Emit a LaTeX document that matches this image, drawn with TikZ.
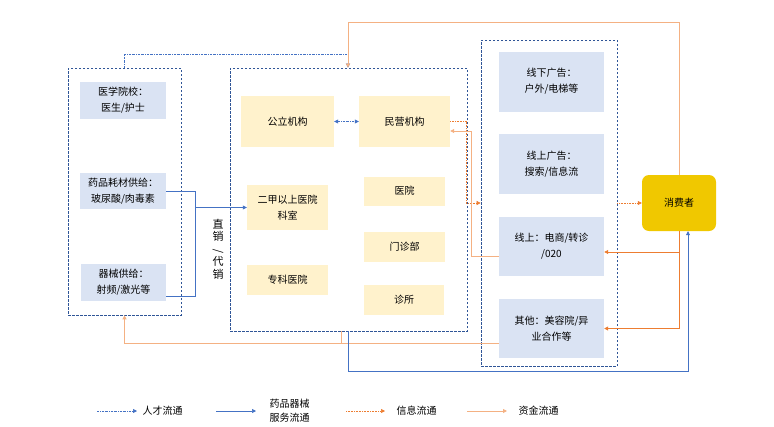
\documentclass[tikz,border=0pt]{standalone}
\usepackage{fontspec}
\setmainfont{Noto Sans CJK SC}
\usetikzlibrary{arrows.meta,positioning}
\definecolor{darkblue}{HTML}{2F5597}
\definecolor{flowblue}{HTML}{4472C4}
\definecolor{nodeblue}{HTML}{DAE3F3}
\definecolor{nodeyellow}{HTML}{FFF2CC}
\definecolor{flowred}{HTML}{ED7D31}
\definecolor{flowpeach}{HTML}{F4B183}
\definecolor{gold}{HTML}{F0C800}
\begin{document}
\begin{tikzpicture}[x=1pt,y=-1pt,>={Triangle[length=4pt,width=4pt]},
  groupbox/.style={draw=darkblue,line width=0.7pt,dash pattern=on 2.5pt off 1.5pt,inner sep=0pt},
  bluebox/.style={fill=nodeblue,inner sep=0pt,align=center,font=\fontsize{10}{16}\selectfont},
  yellowbox/.style={fill=nodeyellow,inner sep=0pt,align=center,font=\fontsize{10}{16}\selectfont},
  talent/.style={draw=flowblue,line width=0.6pt,dash pattern=on 2pt off 1pt on 0.5pt off 1pt},
  supply/.style={draw=flowblue,line width=0.7pt},
  info/.style={draw=flowred,line width=0.6pt,densely dotted},
  money/.style={draw=flowpeach,line width=0.9pt},
  moneydark/.style={draw=flowred,line width=0.9pt}]
\useasboundingbox (0,0) rectangle (774,426);
% groups
\node[groupbox,minimum width=113pt,minimum height=247pt] (leftgroup) at (124.5,191.5) {};
\node[groupbox,minimum width=237pt,minimum height=263pt] (midgroup) at (348.5,199.5) {};
\node[groupbox,minimum width=136pt,minimum height=326pt] (rightgroup) at (549,203) {};
% left column
\node[bluebox,minimum width=86pt,minimum height=37pt] (school) at (123,100.5) {医学院校：\\医生/护士};
\node[bluebox,minimum width=86pt,minimum height=36pt] (drug) at (123,191) {药品耗材供给：\\玻尿酸/肉毒素};
\node[bluebox,minimum width=85pt,minimum height=37pt] (device) at (123.5,282.5) {器械供给：\\射频/激光等};
% institutions
\node[yellowbox,minimum width=93pt,minimum height=51pt] (public) at (287.5,121.5) {公立机构};
\node[yellowbox,minimum width=91pt,minimum height=51pt] (private) at (404.5,121.5) {民营机构};
\node[yellowbox,minimum width=81pt,minimum height=45pt] (erjia) at (287.5,207.5) {二甲以上医院\\科室};
\node[yellowbox,minimum width=81pt,minimum height=30pt] (special) at (287.5,280) {专科医院};
\node[yellowbox,minimum width=81pt,minimum height=29pt] (hosp) at (404.5,191) {医院};
\node[yellowbox,minimum width=81pt,minimum height=30pt] (outpatient) at (404.5,247) {门诊部};
\node[yellowbox,minimum width=80pt,minimum height=30pt] (clinic) at (404,300) {诊所};
% channels
\node[bluebox,minimum width=105pt,minimum height=60pt] (offline) at (551.5,81.5) {线下广告：\\户外/电梯等};
\node[bluebox,minimum width=105pt,minimum height=60pt] (onlineads) at (551.5,164) {线上广告：\\搜索/信息流};
\node[bluebox,minimum width=105pt,minimum height=59pt] (online) at (551.5,246.5) {线上：电商/转诊\\/020};
\node[bluebox,minimum width=105pt,minimum height=59pt] (other) at (551.5,328.5) {其他：美容院/异\\业合作等};
\node[fill=gold,rounded corners=7pt,minimum width=74pt,minimum height=56pt,font=\fontsize{10}{12}\selectfont] (consumer) at (679,203) {消费者};
\node[align=center,font=\fontsize{11}{12.5}\selectfont] (channel) at (218,249) {直\\销\\\rotatebox{90}{/}\\代\\销};
% flows
\coordinate (talentin) at (348,54);
\coordinate (moneyin) at (348,22);
\coordinate (split) at (195,207.5);
\draw[talent,->] (leftgroup.north) |- (talentin) -- (talentin |- midgroup.north);
\draw[money,->] (consumer.north) |- (moneyin) -- (moneyin |- midgroup.north);
\draw[talent,<->] (public) -- (private);
\draw[supply] (drug.east) -- ++(29,0) |- ([yshift=-14pt]device.east);
\draw[supply,->] (split) -- (erjia.west);
\draw[info,->] (private.east) -- ++(16,0) |- (rightgroup.west);
\draw[info,->] (rightgroup.east) -- (consumer.west);
\draw[moneydark,->] (consumer.south) |- (other.east);
\draw[moneydark,->] (consumer.south |- 0,252) -- ([yshift=-5.5pt]online.east);
\draw[money,->] ([yshift=-10pt]online.west) -- ++(-27,0) |- ([yshift=-9.5pt]private.east);
\draw[money,->] ([yshift=-15pt]other.west) -| (leftgroup.south);
\draw[money] ([xshift=-7.5pt]midgroup.south) -- ++(0,12);
\draw[supply,->] (midgroup.south) -- ++(0,40) -| ([xshift=9pt]consumer.south);
% legend
\begin{scope}[every node/.style={font=\fontsize{10}{14}\selectfont,align=center}]
\coordinate (talentA) at (97,411);
\coordinate (talentB) at (137,411);
\coordinate (supplyA) at (216,411);
\coordinate (supplyB) at (256,411);
\coordinate (infoA) at (346,411);
\coordinate (infoB) at (385,411);
\coordinate (moneyA) at (467,411);
\coordinate (moneyB) at (507,411);
\draw[talent,->] (talentA) -- (talentB);
\draw[supply,->] (supplyA) -- (supplyB);
\draw[info,->] (infoA) -- (infoB);
\draw[money,->] (moneyA) -- (moneyB);
\node[right=2pt of talentB] (talentkey) {人才流通};
\node[right=10pt of supplyB] (supplykey) {药品器械\\服务流通};
\node[right=8pt of infoB] (infokey) {信息流通};
\node[right=8pt of moneyB] (moneykey) {资金流通};
\end{scope}
\end{tikzpicture}
\end{document}
